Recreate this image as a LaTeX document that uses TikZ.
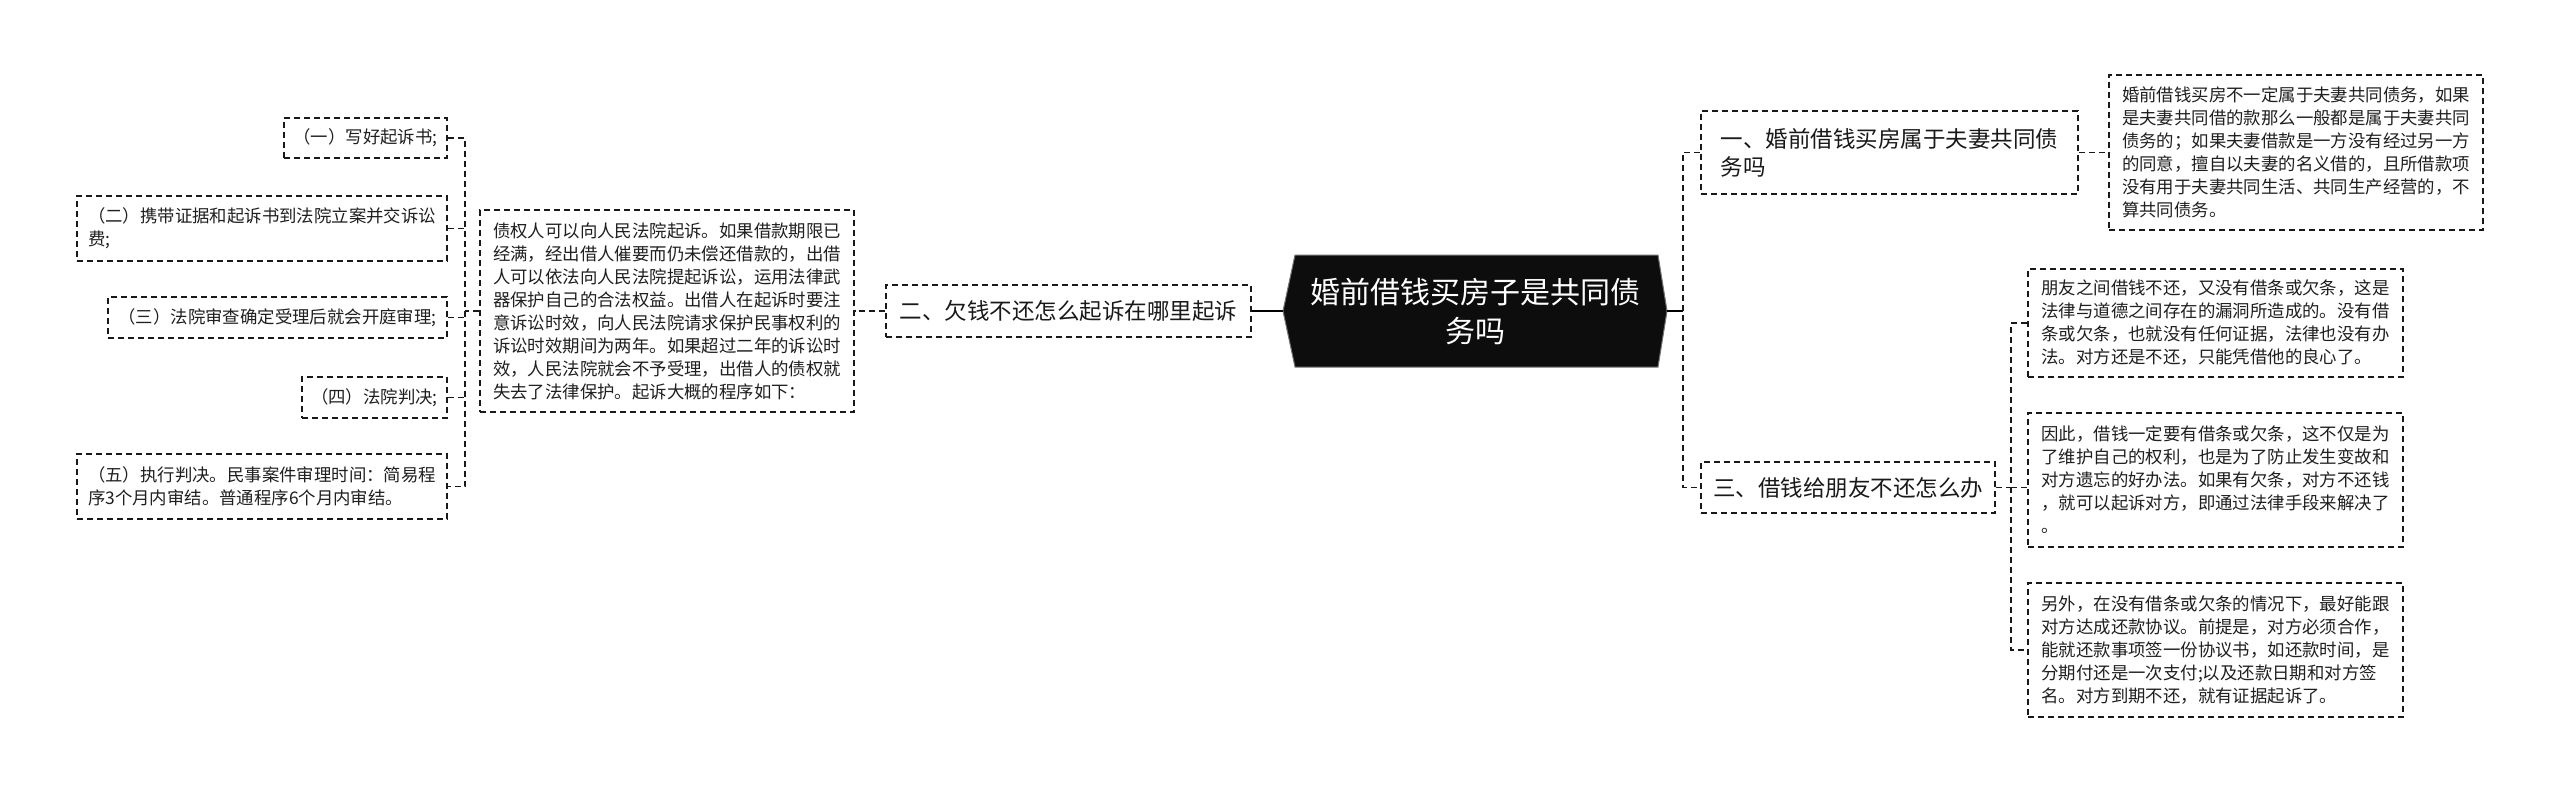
\documentclass[tikz,border=0pt]{standalone}
\usepackage{fontspec}
\newfontfamily\cjk{Noto Sans CJK SC}
\usetikzlibrary{calc}
\begin{document}
\begin{tikzpicture}[x=1pt,y=-1pt,
  dbox/.style={draw=black!90, line width=1.7pt, dash pattern=on 6pt off 4pt, inner sep=0pt, align=left},
  leaf/.style={dbox, font=\cjk\fontsize{17.4}{23}\selectfont, text=black!88},
  branch/.style={dbox, font=\cjk\fontsize{22.5}{28}\selectfont, text=black!90},
  conn/.style={draw=black!90, line width=1.7pt, dash pattern=on 6pt off 4pt},
  solidconn/.style={draw=black, line width=1.8pt}]
\useasboundingbox (0,0) rectangle (2560,793);
\fill[white] (0,0) rectangle (2560,793);

% root
\filldraw[fill=black!95, draw=black!55, line width=1pt] (1283,311) -- (1295,255) -- (1658,255) -- (1667,311) -- (1658,367) -- (1295,367) -- cycle;
\node[font=\cjk\fontsize{30}{39}\selectfont, text=white, align=center, minimum width=384pt, minimum height=112pt, inner sep=0pt] (root) at (1475,311) {婚前借钱买房子是共同债\\务吗};

% branches
\node[branch, minimum width=377pt, minimum height=83pt] (b1) at (1889.5,152.5) {一、婚前借钱买房属于夫妻共同债\\务吗};
\node[branch, minimum width=294pt, minimum height=51pt] (b3) at (1848,487.5) {三、借钱给朋友不还怎么办};
\node[branch, minimum width=365pt, minimum height=52pt] (b2) at (1068.5,311) {二、欠钱不还怎么起诉在哪里起诉};

% right leaves
\node[leaf, minimum width=374pt, minimum height=155pt] (r1) at (2296,152.5) {婚前借钱买房不一定属于夫妻共同债务，如果\\是夫妻共同借的款那么一般都是属于夫妻共同\\债务的；如果夫妻借款是一方没有经过另一方\\的同意，擅自以夫妻的名义借的，且所借款项\\没有用于夫妻共同生活、共同生产经营的，不\\算共同债务。};
\node[leaf, minimum width=375pt, minimum height=108pt] (s1) at (2215.5,323) {朋友之间借钱不还，又没有借条或欠条，这是\\法律与道德之间存在的漏洞所造成的。没有借\\条或欠条，也就没有任何证据，法律也没有办\\法。对方还是不还，只能凭借他的良心了。};
\node[leaf, minimum width=375pt, minimum height=134pt] (s2) at (2215.5,480) {因此，借钱一定要有借条或欠条，这不仅是为\\了维护自己的权利，也是为了防止发生变故和\\对方遗忘的好办法。如果有欠条，对方不还钱\\，就可以起诉对方，即通过法律手段来解决了\\。};
\node[leaf, minimum width=375pt, minimum height=134pt] (s3) at (2215.5,650) {另外，在没有借条或欠条的情况下，最好能跟\\对方达成还款协议。前提是，对方必须合作，\\能就还款事项签一份协议书，如还款时间，是\\分期付还是一次支付;以及还款日期和对方签\\名。对方到期不还，就有证据起诉了。};

% left side
\node[leaf, minimum width=374pt, minimum height=202pt] (L) at (667,311) {债权人可以向人民法院起诉。如果借款期限已\\经满，经出借人催要而仍未偿还借款的，出借\\人可以依法向人民法院提起诉讼，运用法律武\\器保护自己的合法权益。出借人在起诉时要注\\意诉讼时效，向人民法院请求保护民事权利的\\诉讼时效期间为两年。如果超过二年的诉讼时\\效，人民法院就会不予受理，出借人的债权就\\失去了法律保护。起诉大概的程序如下：};
\node[leaf, minimum width=163pt, minimum height=40pt] (i1) at (365.5,138) {（一）写好起诉书;};
\node[leaf, minimum width=370pt, minimum height=65pt] (i2) at (262,228.5) {（二）携带证据和起诉书到法院立案并交诉讼\\费;};
\node[leaf, minimum width=339pt, minimum height=41pt] (i3) at (277.5,317.5) {（三）法院审查确定受理后就会开庭审理;};
\node[leaf, minimum width=145pt, minimum height=41pt] (i4) at (374.5,397.5) {（四）法院判决;};
\node[leaf, minimum width=370pt, minimum height=65pt] (i5) at (262,486.5) {（五）执行判决。民事案件审理时间：简易程\\序3个月内审结。普通程序6个月内审结。};

% connectors right
\coordinate (rj) at (1683,311);
\draw[solidconn] (root.east) -- (rj);
\draw[conn] (b1.west) -- (b1.west -| rj) -- (b3.west -| rj) -- (b3.west);
\draw[conn] (b1.east) -- (r1.west);
\coordinate (sj) at (2011,487.5);
\draw[conn] (b3.east) -- (sj);
\draw[conn] (s1.west) -- (s1.west -| sj) -- (s3.west -| sj) -- (s3.west);
\draw[conn] (sj) -- (s2.west |- sj);

% connectors left
\draw[solidconn] (root.west) -- (b2.east);
\draw[conn] (b2.west) -- (L.east);
\coordinate (lj) at (465,311);
\draw[conn] (L.west) -- (lj);
\draw[conn] (i1.east) -- (i1.east -| lj) -- (i5.east -| lj) -- (i5.east);
\draw[conn] (i2.east) -- (i2.east -| lj);
\draw[conn] (i3.east) -- (i3.east -| lj);
\draw[conn] (i4.east) -- (i4.east -| lj);
\end{tikzpicture}
\end{document}
